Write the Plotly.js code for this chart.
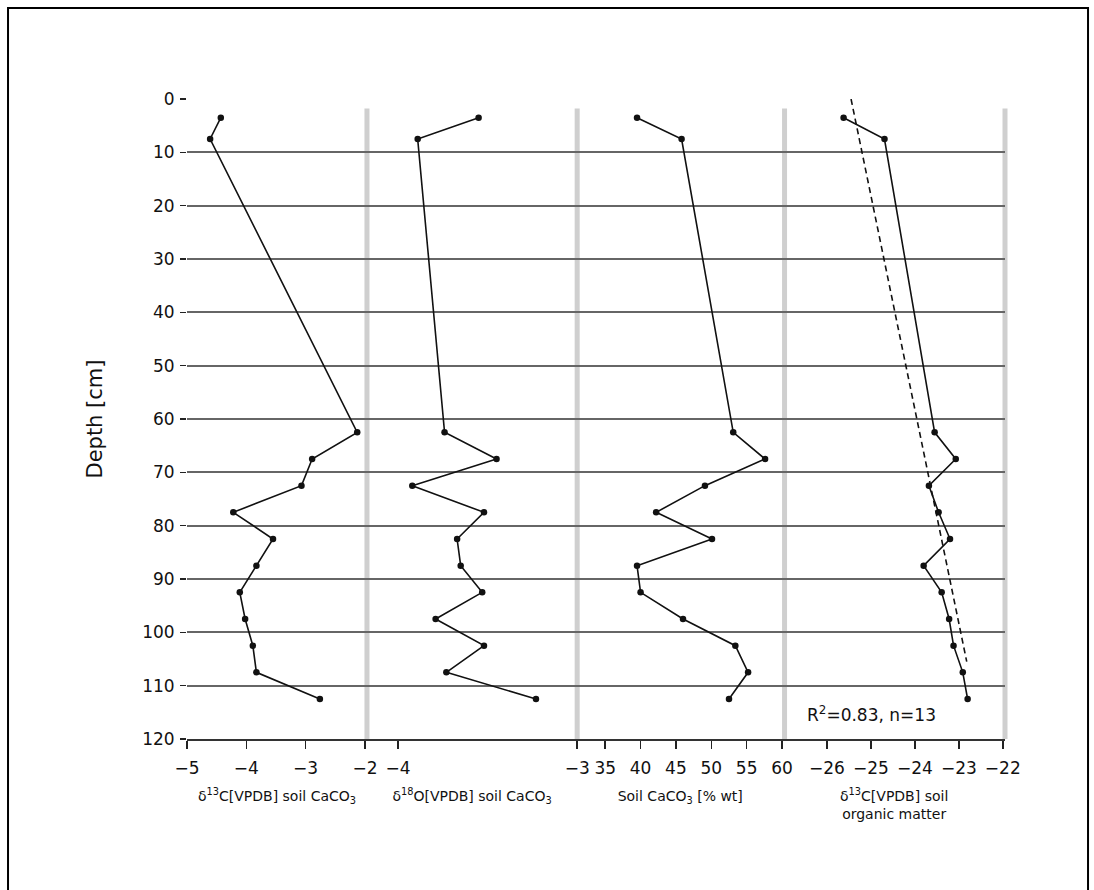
<!DOCTYPE html>
<html>
<head>
<meta charset="utf-8">
<script src="https://cdn.plot.ly/plotly-3.0.1.min.js"></script>
<style>
html,body{margin:0;padding:0;background:#fff;}
#chart{width:1094px;height:890px;}
</style>
</head>
<body>
<div id="chart"></div>
<script>
// Depths (cm) of the 13 samples
const depth = [3.5, 7.5, 62.5, 67.5, 72.5, 77.5, 82.5, 87.5, 92.5, 97.5, 102.5, 107.5, 112.5];
// δ13C [VPDB] soil CaCO3
const d13cCarb = [-4.43, -4.61, -2.13, -2.89, -3.07, -4.22, -3.55, -3.83, -4.11, -4.02, -3.89, -3.83, -2.76];
// δ18O [VPDB] soil CaCO3
const d18oCarb = [-3.55, -3.89, -3.74, -3.45, -3.92, -3.52, -3.67, -3.65, -3.53, -3.79, -3.52, -3.73, -3.23];
// Soil CaCO3 [% wt]
const caco3 = [39.5, 45.8, 53.1, 57.6, 49.1, 42.2, 50.1, 39.5, 40.0, 46.0, 53.4, 55.2, 52.5];
// δ13C [VPDB] soil organic matter
const d13cOrg = [-25.62, -24.69, -23.55, -23.07, -23.68, -23.46, -23.20, -23.80, -23.39, -23.22, -23.12, -22.91, -22.80];
// Regression line (dashed) for organic matter
const regDepth = [0, 105.5];
const regValue = [-25.45, -22.82];
const regLabel = 'R<sup>2</sup>=0.83, n=13';

// Axis tick values
const yTicks = [0, 10, 20, 30, 40, 50, 60, 70, 80, 90, 100, 110, 120];
const x1Ticks = [-5, -4, -3, -2];
const x2Ticks = [-4, -3];
const x3Ticks = [35, 40, 45, 50, 55, 60];
const x4Ticks = [-26, -25, -24, -23, -22];
const minorSteps = [0.1, 0.1, 1, 0.5];

const titles = [
  'δ<sup>13</sup>C[VPDB] soil CaCO<sub>3</sub>',
  'δ<sup>18</sup>O[VPDB] soil CaCO<sub>3</sub>',
  'Soil CaCO<sub>3</sub> [% wt]',
  'δ<sup>13</sup>C[VPDB] soil<br>organic matter'
];

const FONT = 'DejaVu Sans, Open Sans, sans-serif';
const lineStyle = {color: '#111', width: 1.6};
const markerStyle = {color: '#111', size: 6.5};

function series(x, xa) {
  return {x: x, y: depth, xaxis: xa, yaxis: 'y', mode: 'lines+markers',
          line: lineStyle, marker: markerStyle, showlegend: false, hoverinfo: 'x+y'};
}

const doms = [[0, 0.220], [0.220, 0.477], [0.477, 0.729], [0.729, 1]];
const ranges = [[-5, -1.966], [-4.173, -3], [31.04, 60.18], [-26.99, -21.95]];
const tickSets = [x1Ticks, x2Ticks, x3Ticks, x4Ticks];
const axNames = ['x', 'x2', 'x3', 'x4'];
const yRange = [120, 0];

// minor tick marks: small vertical marks just below each bottom axis, placed via each x scale
function minorTickTrace(i) {
  const t = tickSets[i], step = minorSteps[i], r = ranges[i];
  const first = t[0], last = t[t.length - 1];
  const n = Math.round((last - first) / step);
  const xs = [];
  for (let k = 0; k <= n; k++) {
    const v = +(first + k * step).toFixed(4);
    if (t.some(tv => Math.abs(tv - v) < 1e-6)) continue;
    if (v < r[0] || v > r[1]) continue;
    xs.push(v);
  }
  return {x: xs, y: xs.map(() => yRange[0] + 0.62), xaxis: axNames[i], yaxis: 'y',
          mode: 'markers', cliponaxis: false, hoverinfo: 'skip', showlegend: false,
          marker: {symbol: 'line-ns', size: 6.5, color: '#222', line: {color: '#222', width: 1.3}}};
}

const traces = [
  series(d13cCarb, 'x'),
  series(d18oCarb, 'x2'),
  series(caco3, 'x3'),
  {x: regValue, y: regDepth, xaxis: 'x4', yaxis: 'y', mode: 'lines',
   line: {color: '#111', width: 1.6, dash: '6px,4px'}, showlegend: false},
  series(d13cOrg, 'x4'),
  minorTickTrace(0), minorTickTrace(1), minorTickTrace(2), minorTickTrace(3)
];

function xaxis(i) {
  const t = tickSets[i];
  return {
    domain: doms[i], range: ranges[i], anchor: 'y',
    tickmode: 'array', tickvals: t,
    ticks: 'outside', ticklen: 8, tickwidth: 1.4, tickcolor: '#222',
    ticklabelstandoff: 5,
    showline: true, linecolor: '#333', linewidth: 1.6,
    showgrid: false, zeroline: false,
    tickfont: {family: FONT, size: 17, color: '#111'},
    title: {text: titles[i], font: {family: FONT, size: 14, color: '#111'}, standoff: 14}
  };
}

const shapes = [];
// vertical grey separators between panels
const sepX = [0.220, 0.477, 0.7305, 1.0];
sepX.forEach(p => shapes.push({
  type: 'line', xref: 'paper', yref: 'paper', x0: p, x1: p, y0: 0, y1: 0.985,
  line: {color: 'rgba(160,160,160,0.5)', width: 5}, layer: 'below'
}));
// outer frame
shapes.push({type: 'rect', xref: 'paper', yref: 'paper',
  x0: -0.2188, x1: 1.1015, y0: -0.32, y1: 1.142,
  line: {color: '#000', width: 2}, fillcolor: 'rgba(0,0,0,0)'});

const layout = {
  width: 1094, height: 890,
  margin: {l: 187, r: 89, t: 99, b: 151},
  paper_bgcolor: '#fff', plot_bgcolor: '#fff',
  font: {family: FONT, color: '#111'},
  showlegend: false,
  xaxis: xaxis(0), xaxis2: xaxis(1), xaxis3: xaxis(2), xaxis4: xaxis(3),
  yaxis: {
    range: yRange, anchor: 'x', tickmode: 'array', tickvals: yTicks,
    ticks: 'outside', ticklen: 6, tickwidth: 1.4, tickcolor: '#222',
    ticklabelstandoff: 2,
    showgrid: true, gridcolor: '#666', gridwidth: 2,
    zeroline: false, showline: false,
    tickfont: {family: FONT, size: 17, color: '#111'},
    title: {text: 'Depth [cm]', font: {family: FONT, size: 21, color: '#111'}, standoff: 33}
  },
  shapes: shapes,
  annotations: [{
    xref: 'x4', yref: 'y', x: -26.49, y: 115.3, xanchor: 'left', yanchor: 'middle',
    text: regLabel, showarrow: false, font: {family: FONT, size: 17, color: '#111'}
  }]
};

Plotly.newPlot('chart', traces, layout, {displayModeBar: false, staticPlot: true});
</script>
</body>
</html>
